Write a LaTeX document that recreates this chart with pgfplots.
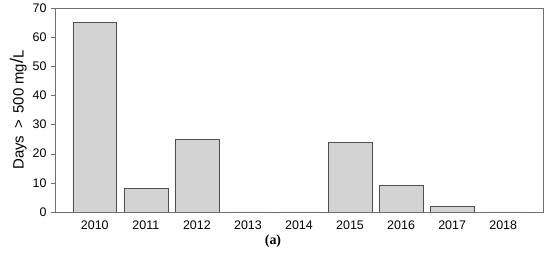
\documentclass[border=0pt]{standalone}
\usepackage{pgfplots}
\pgfplotsset{compat=1.18}
\usepackage{fontspec}
\setmainfont{Liberation Sans}
\newfontfamily\capfont{Liberation Serif}
\definecolor{barfill}{HTML}{D3D3D3}
\definecolor{baredge}{HTML}{505050}
\definecolor{frame}{HTML}{707070}
\begin{document}
\begin{tikzpicture}
\begin{axis}[
  scale only axis,
  width=488bp, height=204bp,
  xmin=-0.78, xmax=8.78,
  ymin=0, ymax=70,
  ytick={0,10,...,70},
  xtick={0,...,8},
  xticklabels={2010,2011,2012,2013,2014,2015,2016,2017,2018},
  x tick style={draw=none},
  y tick style={draw=frame, thin},
  tick align=outside,
  ytick pos=left,
  major tick length=4bp,
  axis line style={draw=frame, thin},
  ticklabel style={font=\fontsize{12.5}{14}\selectfont},
  /pgf/number format/assume math mode=true,
  ylabel={Days \,>\, 500 mg\raisebox{0.1ex}{\fontsize{18}{18}\selectfont/}L},
  ylabel style={font=\fontsize{15}{17}\selectfont, yshift=-1bp},
  xticklabel style={yshift=-1bp},
  yticklabel style={xshift=-1bp},
]
\addplot[ybar, bar width=0.86, fill=barfill, draw=baredge, line width=0.6pt]
coordinates {(0,65) (1,8) (2,25) (3,0) (4,0) (5,24) (6,9) (7,2) (8,0)};
\end{axis}
\node[font=\capfont\bfseries\fontsize{14}{16}\selectfont] at ([xshift=218bp,yshift=-29bp]current axis.south west) {(a)};
\useasboundingbox ([xshift=-55bp,yshift=-41bp]current axis.south west) rectangle ([xshift=7bp,yshift=8bp]current axis.north east);
\end{tikzpicture}
\end{document}
